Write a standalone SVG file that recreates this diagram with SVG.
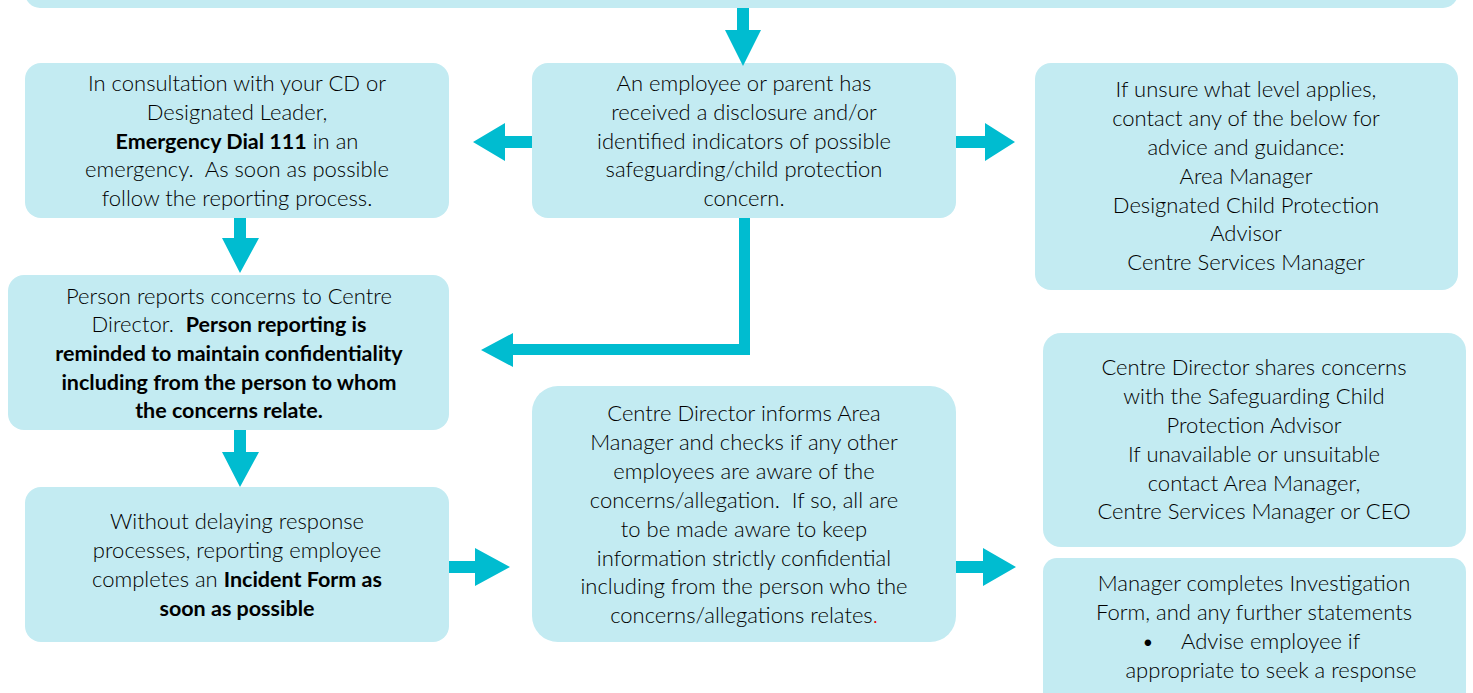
<svg xmlns="http://www.w3.org/2000/svg" width="1473" height="693" viewBox="0 0 1473 693">
<style>
.box{fill:#C3EBF2}
.arr{fill:#00BCD0}
text{font-family:Lato,"Open Sans",sans-serif;font-size:22px;font-weight:300;fill:#000;text-anchor:middle}
.b{font-weight:bold;fill:#000;font-size:21.5px}
</style>
<rect width="1473" height="693" fill="#fff"/>
<g id="top"><rect class="box" x="25" y="-40" width="1433" height="48" rx="15"/></g>
<g id="nodeA"><rect class="box" x="25" y="63" width="424" height="155" rx="16"/>
<text x="237" y="91">In consultation with your CD or</text>
<text x="237" y="120">Designated Leader,</text>
<text x="237" y="149"><tspan class="b">Emergency Dial 111</tspan> in an</text>
<text x="237" y="177">emergency.&#160; As soon as possible</text>
<text x="237" y="206">follow the reporting process.</text></g>
<g id="nodeB"><rect class="box" x="532" y="63" width="424" height="155" rx="16"/>
<text x="744" y="91">An employee or parent has</text>
<text x="744" y="120">received a disclosure and/or</text>
<text x="744" y="149">identified indicators of possible</text>
<text x="744" y="177">safeguarding/child protection</text>
<text x="744" y="206">concern.</text></g>
<g id="nodeC"><rect class="box" x="1035" y="63" width="423" height="227" rx="16"/>
<text x="1246" y="97">If unsure what level applies,</text>
<text x="1246" y="126">contact any of the below for</text>
<text x="1246" y="155">advice and guidance:</text>
<text x="1246" y="184">Area Manager</text>
<text x="1246" y="213">Designated Child Protection</text>
<text x="1246" y="241">Advisor</text>
<text x="1246" y="270">Centre Services Manager</text></g>
<g id="nodeD"><rect class="box" x="8" y="275" width="441" height="155" rx="16"/>
<text x="229" y="304">Person reports concerns to Centre</text>
<text x="229" y="332">Director.&#160; <tspan class="b">Person reporting is</tspan></text>
<text x="229" y="361" class="b">reminded to maintain confidentiality</text>
<text x="229" y="390" class="b">including from the person to whom</text>
<text x="229" y="418" class="b">the concerns relate.</text></g>
<g id="nodeE"><rect class="box" x="25" y="487" width="424" height="155" rx="16"/>
<text x="237" y="529">Without delaying response</text>
<text x="237" y="558">processes, reporting employee</text>
<text x="237" y="587">completes an <tspan class="b">Incident Form as</tspan></text>
<text x="237" y="616" class="b">soon as possible</text></g>
<g id="nodeF"><rect class="box" x="532" y="386" width="424" height="256" rx="26"/>
<text x="744" y="421">Centre Director informs Area</text>
<text x="744" y="450">Manager and checks if any other</text>
<text x="744" y="479">employees are aware of the</text>
<text x="744" y="508">concerns/allegation.&#160; If so, all are</text>
<text x="744" y="537">to be made aware to keep</text>
<text x="744" y="566">information strictly confidential</text>
<text x="744" y="594">including from the person who the</text>
<text x="744" y="623">concerns/allegations relates<tspan fill="#E00000">.</tspan></text></g>
<g id="nodeG"><rect class="box" x="1043" y="333" width="423" height="214" rx="18"/>
<text x="1254" y="375">Centre Director shares concerns</text>
<text x="1254" y="404">with the Safeguarding Child</text>
<text x="1254" y="433">Protection Advisor</text>
<text x="1254" y="462">If unavailable or unsuitable</text>
<text x="1254" y="491">contact Area Manager,</text>
<text x="1254" y="519">Centre Services Manager or CEO</text></g>
<g id="nodeH"><rect class="box" x="1043" y="558" width="423" height="160" rx="14"/>
<text x="1254" y="591">Manager completes Investigation</text>
<text x="1254" y="620">Form, and any further statements</text>
<text x="1148" y="649">•</text>
<text x="1181" y="649" style="text-anchor:start">Advise employee if</text>
<text x="1271" y="678">appropriate to seek a response</text></g>
<g id="connectors">
<polygon class="arr" points="737,8 749,8 749,30 761,30 743,66 725,30 737,30"/>
<polygon class="arr" points="532,136 505,136 505,123 473,142 505,161 505,148 532,148"/>
<polygon class="arr" points="956,136 985,136 985,123 1015,142 985,161 985,148 956,148"/>
<polygon class="arr" points="234,218 246,218 246,238 259,238 240,273 222,238 234,238"/>
<polygon class="arr" points="739,218 750,218 750,355 513,355 513,367 481,350 513,333 513,344 739,344"/>
<polygon class="arr" points="234,430 246,430 246,452 259,452 240,487 222,452 234,452"/>
<polygon class="arr" points="449,561 475,561 475,548 510,567 475,586 475,573 449,573"/>
<polygon class="arr" points="956,561 983,561 983,548 1016,567 983,586 983,573 956,573"/>
</g>
</svg>
